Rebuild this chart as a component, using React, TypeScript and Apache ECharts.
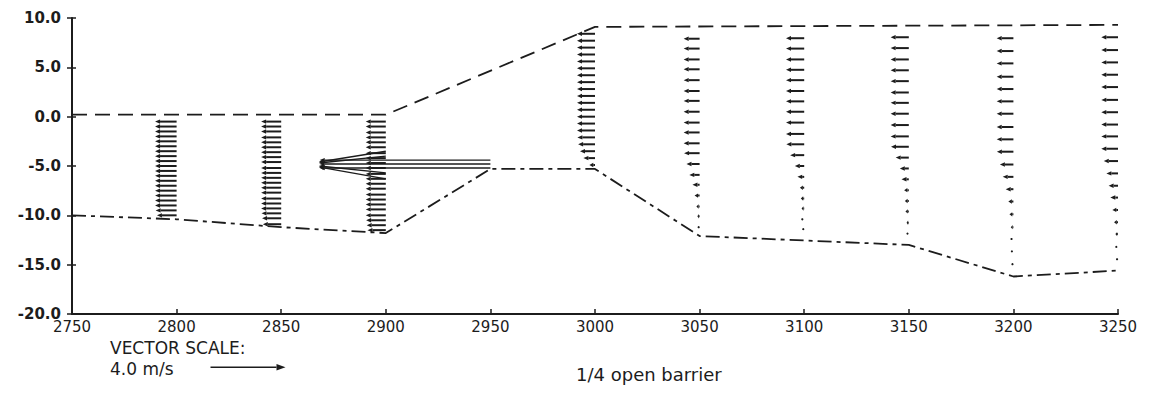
import React, { useEffect, useRef } from "react";
import * as echarts from "echarts";

// ---- Channel outline (x: station m, y: elevation m) ----
const SURFACE_X = [2750, 2900, 3000, 3250];
const SURFACE_Y = [0.2, 0.2, 9.1, 9.3];
const BED_X = [2750, 2800, 2850, 2900, 2950, 3000, 3050, 3150, 3200, 3250];
const BED_Y = [-10.0, -10.4, -11.2, -11.8, -5.3, -5.3, -12.1, -13.0, -16.2, -15.6];

// ---- Velocity profiles (u in m/s, negative = flow to the left) ----
const Y_2800 = [-0.5, -1.0, -1.5, -2.0, -2.5, -3.0, -3.5, -4.0, -4.5, -5.0, -5.5, -6.0, -6.5, -7.0, -7.5, -8.0, -8.5, -9.0, -9.5, -10.0];
const U_2800 = [-1.15, -1.15, -1.15, -1.15, -1.15, -1.15, -1.15, -1.15, -1.15, -1.15, -1.15, -1.15, -1.15, -1.15, -1.15, -1.15, -1.15, -1.15, -1.12, -1.05];

const Y_2850 = [-0.5, -1.0, -1.5, -2.1, -2.6, -3.1, -3.6, -4.1, -4.6, -5.2, -5.7, -6.2, -6.7, -7.2, -7.7, -8.3, -8.8, -9.3, -9.8, -10.3, -10.9];
const U_2850 = [-1.07, -1.07, -1.07, -1.07, -1.07, -1.07, -1.07, -1.07, -1.07, -1.07, -1.07, -1.07, -1.07, -1.07, -1.07, -1.07, -1.07, -1.07, -1.05, -1.02, -0.98];

const Y_2900 = [-0.5, -1.0, -1.6, -2.1, -2.6, -3.1, -3.7, -4.2, -4.7, -5.2, -5.8, -6.3, -6.8, -7.3, -7.9, -8.4, -8.9, -9.4, -10.0, -10.5, -11.0, -11.5];
const U_2900 = [-1.07, -1.07, -1.07, -1.07, -1.07, -1.07, -1.07, -1.07, -1.07, -1.07, -1.07, -1.07, -1.07, -1.07, -1.07, -1.07, -1.07, -1.07, -1.07, -1.05, -1.02, -0.98];

// converging jet vectors at 2900 (u, v)
const FAN_Y = [-3.5, -4.0, -5.7, -6.3];
const FAN_U = [-3.57, -3.57, -3.57, -3.57];
const FAN_V = [-0.58, -0.37, 0.37, 0.63];

// jet through the barrier opening at 2950
const JET_Y = [-4.4, -4.8, -5.2];
const JET_U = [-9.1, -9.1, -9.1];

const Y_3000 = [8.4, 7.7, 7.0, 6.3, 5.6, 4.9, 4.2, 3.5, 2.8, 2.1, 1.4, 0.7, 0.0, -0.7, -1.4, -2.1, -2.8, -3.5, -4.2, -4.9];
const U_3000 = [-0.96, -0.96, -0.96, -0.96, -0.96, -0.96, -0.96, -0.96, -0.96, -0.96, -0.96, -0.96, -0.96, -0.96, -0.96, -0.94, -0.9, -0.8, -0.62, -0.3];

const Y_3050 = [7.9, 6.9, 5.8, 4.8, 3.7, 2.6, 1.6, 0.5, -0.6, -1.6, -2.7, -3.7, -4.8, -5.9, -6.9, -8.0, -9.1, -10.1, -11.2];
const U_3050 = [-0.85, -0.85, -0.85, -0.85, -0.85, -0.85, -0.85, -0.85, -0.85, -0.85, -0.85, -0.83, -0.7, -0.55, -0.38, -0.27, -0.17, -0.12, -0.05];

const Y_3100 = [7.95, 6.9, 5.8, 4.75, 3.7, 2.6, 1.55, 0.5, -0.6, -1.75, -2.8, -3.9, -5.0, -6.1, -7.2, -8.3, -9.3, -10.4, -11.4];
const U_3100 = [-0.97, -0.97, -0.97, -0.97, -0.97, -0.97, -0.97, -0.97, -0.97, -0.97, -0.95, -0.75, -0.5, -0.36, -0.23, -0.18, -0.14, -0.1, -0.05];

const Y_3150 = [8.05, 6.95, 5.8, 4.7, 3.6, 2.45, 1.4, 0.3, -0.85, -2.0, -3.05, -4.15, -5.25, -6.35, -7.45, -8.55, -9.6, -10.75, -11.85];
const U_3150 = [-0.97, -0.97, -0.97, -0.97, -0.97, -0.97, -0.97, -0.97, -0.97, -0.97, -0.95, -0.7, -0.48, -0.39, -0.25, -0.21, -0.18, -0.12, -0.07];

const Y_3200 = [7.95, 6.65, 5.4, 4.05, 2.8, 1.55, 0.3, -1.05, -2.3, -3.55, -4.85, -6.1, -7.35, -8.6, -9.9, -11.2, -12.4, -13.65, -14.95];
const U_3200 = [-0.89, -0.89, -0.89, -0.89, -0.89, -0.89, -0.89, -0.89, -0.89, -0.88, -0.72, -0.57, -0.41, -0.27, -0.21, -0.14, -0.1, -0.08, -0.05];

const Y_3250 = [8.05, 6.75, 5.5, 4.25, 3.0, 1.7, 0.45, -0.8, -2.0, -3.25, -4.5, -5.75, -7.0, -8.2, -9.45, -10.7, -11.9, -13.2, -14.45];
const U_3250 = [-0.89, -0.89, -0.89, -0.89, -0.89, -0.89, -0.89, -0.89, -0.89, -0.89, -0.76, -0.62, -0.5, -0.41, -0.3, -0.21, -0.14, -0.09, -0.05];

const PROFILES: { x: number; ys: number[]; us: number[] }[] = [
  { x: 2800, ys: Y_2800, us: U_2800 },
  { x: 2850, ys: Y_2850, us: U_2850 },
  { x: 2900, ys: Y_2900, us: U_2900 },
  { x: 3000, ys: Y_3000, us: U_3000 },
  { x: 3050, ys: Y_3050, us: U_3050 },
  { x: 3100, ys: Y_3100, us: U_3100 },
  { x: 3150, ys: Y_3150, us: U_3150 },
  { x: 3200, ys: Y_3200, us: U_3200 },
  { x: 3250, ys: Y_3250, us: U_3250 },
];

const X_MIN = 2750;
const X_MAX = 3250;
const Y_MIN = -20;
const Y_MAX = 10;

const SCALE_SPEED = 4.0; // m/s shown in the vector-scale key
const SCALE_PX = 75; // pixel length of the key arrow
const PX_PER_MS = SCALE_PX / SCALE_SPEED;

const INK = "#1c1c1c";
const FONT = "'DejaVu Sans', 'Liberation Sans', sans-serif";

function arrowShapes(
  x0: number,
  y0: number,
  dx: number,
  dy: number,
  lw: number,
  headLen = 5,
  headHalf = 2.2
) {
  const len = Math.sqrt(dx * dx + dy * dy);
  const children: any[] = [];
  if (len < 2.2) {
    children.push({
      type: "circle",
      shape: { cx: x0 + dx, cy: y0 + dy, r: 1.1 },
      style: { fill: INK },
    });
    return children;
  }
  const ux = dx / len;
  const uy = dy / len;
  const nx = -uy;
  const ny = ux;
  const hl = Math.min(headLen, len * 0.7);
  const hx = x0 + dx;
  const hy = y0 + dy;
  const bx = hx - ux * hl;
  const by = hy - uy * hl;
  children.push({
    type: "line",
    shape: { x1: x0, y1: y0, x2: bx, y2: by },
    style: { stroke: INK, lineWidth: lw },
  });
  children.push({
    type: "polygon",
    shape: {
      points: [
        [hx, hy],
        [bx + nx * headHalf, by + ny * headHalf],
        [bx - nx * headHalf, by - ny * headHalf],
      ],
    },
    style: { fill: INK },
  });
  return children;
}

export default function App() {
  const ref = useRef<HTMLDivElement>(null);

  useEffect(() => {
    if (!ref.current) return;
    const chart = echarts.init(ref.current, undefined, { renderer: "svg" });

    const vectorData: number[][] = [];
    PROFILES.forEach((p) => {
      p.ys.forEach((y, i) => vectorData.push([p.x, y, p.us[i], 0]));
    });
    FAN_Y.forEach((y, i) => vectorData.push([2900, y, FAN_U[i], FAN_V[i]]));
    JET_Y.forEach((y, i) => vectorData.push([2950, y, JET_U[i], 0]));

    const option: any = {
      animation: false,
      backgroundColor: "#ffffff",
      grid: { left: 72, right: 32, top: 18, bottom: 83, containLabel: false },
      xAxis: {
        type: "value",
        min: X_MIN,
        max: X_MAX,
        interval: 50,
        axisLine: { onZero: false, lineStyle: { color: INK, width: 2 } },
        axisTick: { inside: true, length: 5, lineStyle: { color: INK, width: 1.5 } },
        splitLine: { show: false },
        axisLabel: {
          color: INK,
          fontSize: 15,
          fontFamily: FONT,
          margin: 5,
          formatter: (v: number) => String(v),
        },
      },
      yAxis: [
        {
          type: "value",
          min: Y_MIN,
          max: Y_MAX,
          interval: 5,
          axisLine: { onZero: false, lineStyle: { color: INK, width: 2 } },
          axisTick: { length: 5, lineStyle: { color: INK, width: 1.5 } },
          splitLine: { show: false },
          axisLabel: {
            color: INK,
            fontSize: 15,
            fontWeight: "bold",
            fontFamily: FONT,
            margin: 11,
            formatter: (v: number) => v.toFixed(1),
          },
        },
        {
          type: "value",
          position: "left",
          min: Y_MIN,
          max: Y_MAX,
          interval: 5,
          axisLine: { show: false, onZero: false },
          axisTick: { inside: true, length: 4, lineStyle: { color: INK, width: 1.5 } },
          axisLabel: { show: false },
          splitLine: { show: false },
        },
      ],
      series: [
        {
          type: "line",
          data: SURFACE_X.map((x, i) => [x, SURFACE_Y[i]]),
          symbol: "none",
          lineStyle: { color: INK, width: 1.8, type: [15, 8] },
          z: 2,
        },
        {
          type: "line",
          data: BED_X.map((x, i) => [x, BED_Y[i]]),
          symbol: "none",
          lineStyle: { color: INK, width: 1.8, type: [14, 5, 4, 5] },
          z: 2,
        },
        {
          type: "custom",
          data: vectorData,
          z: 3,
          renderItem: (params: any, api: any) => {
            const p = api.coord([api.value(0), api.value(1)]);
            const dx = api.value(2) * PX_PER_MS;
            const dy = -api.value(3) * PX_PER_MS;
            const speed = Math.abs(api.value(2));
            return {
              type: "group",
              children: arrowShapes(p[0], p[1], dx, dy, speed > 2 ? 1.4 : 2),
            };
          },
        },
      ],
      graphic: [
        {
          type: "text",
          left: 110,
          top: 339,
          style: { text: "VECTOR SCALE:", fill: INK, font: `17px ${FONT}` },
        },
        {
          type: "text",
          left: 110,
          top: 360,
          style: { text: "4.0 m/s", fill: INK, font: `17px ${FONT}` },
        },
        {
          type: "group",
          left: 208,
          top: 364,
          children: arrowShapes(0, 4, SCALE_SPEED * PX_PER_MS, 0, 1.5, 9, 3.2),
        },
        {
          type: "text",
          left: 576,
          top: 365,
          style: { text: "1/4 open barrier", fill: INK, font: `18px ${FONT}` },
        },
      ],
    };

    chart.setOption(option);
    return () => chart.dispose();
  }, []);

  return (
    <div
      ref={ref}
      style={{ position: "fixed", left: 0, top: 0, width: 1150, height: 397, background: "#fff" }}
    />
  );
}
